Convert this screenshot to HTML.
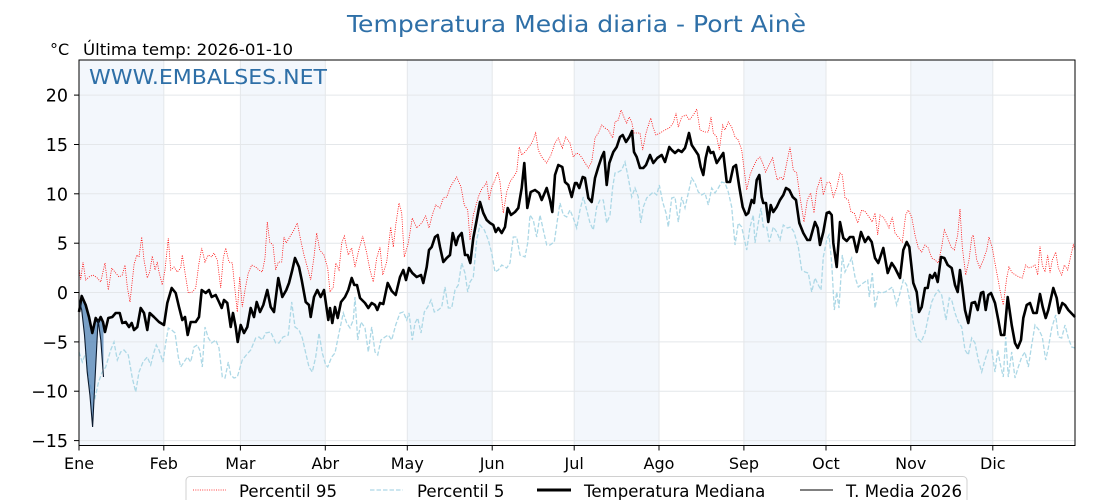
<!DOCTYPE html>
<html><head><meta charset="utf-8"><style>
html,body{margin:0;padding:0;background:#fff;}
svg{display:block;font-family:"DejaVu Sans","Liberation Sans",sans-serif;}
</style></head><body>
<svg width="1120" height="500" viewBox="0 0 1120 500" xmlns="http://www.w3.org/2000/svg">
<rect width="1120" height="500" fill="#fff"/>
<!-- month bands -->
<g fill="#f3f7fc">
<rect x="79" y="60" width="84.8" height="385.5"/>
<rect x="240.4" y="60" width="84.9" height="385.5"/>
<rect x="407.3" y="60" width="84.9" height="385.5"/>
<rect x="574.2" y="60" width="84.8" height="385.5"/>
<rect x="743.9" y="60" width="82.1" height="385.5"/>
<rect x="910.8" y="60" width="82" height="385.5"/>
</g>
<!-- grid -->
<g stroke="#e4e7ea" stroke-width="1">
<line x1="79" x2="1075" y1="95.1" y2="95.1"/>
<line x1="79" x2="1075" y1="144.5" y2="144.5"/>
<line x1="79" x2="1075" y1="193.8" y2="193.8"/>
<line x1="79" x2="1075" y1="243.2" y2="243.2"/>
<line x1="79" x2="1075" y1="292.5" y2="292.5"/>
<line x1="79" x2="1075" y1="341.9" y2="341.9"/>
<line x1="79" x2="1075" y1="391.2" y2="391.2"/>
<line x1="79" x2="1075" y1="440.6" y2="440.6"/>
<line y1="60" y2="445.5" x1="163.8" x2="163.8"/>
<line y1="60" y2="445.5" x1="240.4" x2="240.4"/>
<line y1="60" y2="445.5" x1="325.3" x2="325.3"/>
<line y1="60" y2="445.5" x1="407.3" x2="407.3"/>
<line y1="60" y2="445.5" x1="492.2" x2="492.2"/>
<line y1="60" y2="445.5" x1="574.2" x2="574.2"/>
<line y1="60" y2="445.5" x1="659" x2="659"/>
<line y1="60" y2="445.5" x1="743.9" x2="743.9"/>
<line y1="60" y2="445.5" x1="826" x2="826"/>
<line y1="60" y2="445.5" x1="910.8" x2="910.8"/>
<line y1="60" y2="445.5" x1="992.8" x2="992.8"/>
</g>
<!-- P95 -->
<polyline fill="none" stroke="#ff0000" stroke-width="0.8" stroke-dasharray="1,1.3" points="79,268 80.7,280 83,262 85.7,280 89,277 93,275 97.3,278 100.7,282 105,263 108.3,290 111.7,268 115.7,273 119,277 122.3,275 125,265 127.3,287 130,302 134,265 136.7,255 139,257 141.7,237 144,260 147.3,278 149.7,272 152.3,256 155,270 157.3,262 159,272 162.3,285 165,270 168.3,238 170.7,270 174,267 177.3,272 180.7,268 182.3,255 185.7,277 188.3,293 192.3,292 195.7,288 199,263 201.7,248 205,262 208.3,255 211.7,257 214,253 217.3,260 220.7,288 223.3,258 225.7,248 229,262 232.3,263 235,290 237.3,312 239.7,277 242.3,307 245,290 248.3,273 251.7,265 255.7,267 259,270 262.3,272 265,258 267.3,222 269.7,242 273,245 275.7,270 278.3,262 281.7,262 284,237 286.3,243 289.7,237 294,230 297.3,223 300.7,240 304,255 307.3,267 310.7,280 314,257 316.7,233 319.7,250 324,255 327.7,268 330,292 333.3,287 335.7,263 339,270 341.7,243 344.3,236 348.3,255 351.7,248 355,267 358.3,252 362.7,236 366.7,253 370,270 373.3,282 376.7,258 380,247 382.7,275 386.7,262 390.7,227 393.3,247 395.7,225 399,203 401.7,213 404.3,257 408.3,243 412.3,218 416.7,228 421.7,223 425.7,216 429,228 432.3,215 435.7,205 440,208 443.3,198 446.7,197 450,188 453.3,182 456.7,177 461,187 464.3,205 467.7,210 470,240 473.3,215 478.3,197 481.7,189 485,185 486.7,182 489,200 491.7,187 495,180 497.7,172 500,182 503.3,213 506.7,192 510,182 513.3,177 516.7,172 519.3,147 521.7,155 525,152 529,147 532.3,142 535.7,133 538.3,150 541.7,157 546.7,163 551,155 555,143 558.3,138 562.3,148 565.7,137 570,143 573.3,157 576.7,153 580,155 583.3,160 588.3,168 591.7,162 595,138 598.3,133 601.7,125 605,128 608.3,130 612.7,138 615,122 618.3,120 621,110 624.3,118 626.7,123 629.3,117 631.7,122 634,133 636.7,133 640,133 642.7,150 646,133 650.7,118 653.3,128 656,135 660,133 665,130 669.3,128 673.3,123 676,113 678.3,127 681.7,117 686,115 689.3,120 693.3,115 696.7,109 700,130 705,132 708.3,132 711,117 713.3,133 716.7,137 719.3,150 722.7,125 725,130 728.3,122 731.7,127 735,137 738.3,140 741.7,150 746.7,190 750,175 753.3,167 756.7,160 760,157 762.7,163 765.7,172 769,165 772.7,158 775,170 777.3,180 780.7,177 783.3,180 786.7,163 790,147 793.3,170 796.7,173 800,197 804,222 807.3,200 810.7,193 814,213 816.7,190 818.3,185 821,177 823.3,195 826.7,183 830,182 833.3,197 836.7,188 840,173 842.3,175 845,198 848.3,200 851,212 854.3,213 857.7,223 861.7,210 865.7,212 869,217 872.3,222 875,213 877.7,235 880,215 883.3,217 886.7,223 889,228 892.3,217 895,233 898.3,237 902.3,242 905.7,215 908.3,210 911.7,217 915,235 918.3,248 921.7,252 925,245 928.3,248 931.7,258 935,260 938.3,263 941.7,247 944.3,230 947.7,238 951,247 954.3,250 957.7,235 960,209 962.3,247 965.7,275 969,260 971.7,238 973.3,235 976.7,260 980,268 983.3,260 986.7,250 989,237 992.3,248 995.7,267 1000,290 1003.3,305 1006.7,278 1009,267 1012.3,273 1015.7,275 1019,277 1022.3,278 1025.7,265 1028.3,268 1031.7,267 1035,265 1037.7,275 1040,246 1042.3,265 1045,272 1047.7,255 1050,273 1052.3,260 1055.7,252 1058.3,268 1061.7,275 1064.3,265 1067.7,270 1071,255 1073.3,245 1075,250"/>
<!-- P5 -->
<polyline fill="none" stroke="#add8e6" stroke-width="1.3" stroke-dasharray="4.5,2" points="79,352 82.3,362 85.7,353 89,380 92.3,393 95,398 98.3,383 101.7,373 105.7,367 110.7,350 114,342 117.3,360 120.7,352 124,350 128.3,355 132.3,378 135.7,392 139,372 143,362 147.3,357 150.7,365 154,352 156.3,345 159,350 163,362 165.7,343 168.3,328 171.7,330 175,333 178.3,357 180.7,367 184,362 187.3,357 190.7,362 194,347 197.3,345 199.7,350 202.3,367 205,327 208.3,338 211.7,343 215.7,340 219,348 222.3,377 225,378 228.3,362 230.7,375 234,378 237.3,377 242.3,360 246.3,355 250.7,350 255.7,338 259,337 262.3,340 265.7,333 270.7,332 275.7,343 279,343 283,337 288.3,335 291.7,302 295,327 299,330 302.3,338 305.7,353 309,367 312.3,372 315.7,357 319,333 322.3,353 325.7,365 327.7,367 331.7,357 335,353 339,333 343.3,313 346.7,323 350,328 353.3,320 355,297 357.7,340 361,322 365,328 368.3,352 371.7,327 375,352 377.7,355 381,340 385,337 388.3,335 391.7,340 395.7,325 400,313 403.3,312 406.7,320 409,313 412.3,340 415,323 417.7,318 421,333 424.3,312 427.7,307 431,300 434.3,312 438.3,310 441.7,307 445,287 448.3,308 451.7,308 455,290 458.3,285 461.7,263 465,273 467.7,292 470,282 473.3,277 476.7,240 480,225 484.3,230 488.3,240 491.7,253 495,272 498.3,270 501.7,265 506.7,268 510,263 513.3,237 516.7,237 520,255 525,257 527.7,243 530,215 533.3,220 536.7,237 540,215 543.3,230 546.7,245 550,245 554.3,242 557.7,218 560,203 563.3,215 566.7,217 570,210 573.3,218 576.7,228 580,210 583.3,197 586.7,210 590,223 593.3,230 596.7,207 600,200 603.3,200 606.7,223 610,215 612.7,187 615,173 618.3,172 621.7,170 625,162 628.3,178 631.7,197 635,188 638.3,197 640.7,223 643.3,207 646.7,198 650,195 653.3,192 656.7,195 659.3,185 662.7,202 666,213 668.3,227 671.7,198 675,197 678.3,222 681.7,197 685,208 688.3,193 691.7,178 695,183 698.3,192 701.7,195 705,193 708.3,205 711.7,188 715,193 718.3,188 721.7,182 725,183 728.3,192 731.7,207 735,245 738.3,223 741.7,227 746.7,250 750,227 753.3,215 755,243 758.3,223 761,208 763.3,227 766.7,227 769.3,242 773.3,227 776.7,232 780,240 783.3,225 787.3,228 790.7,227 794,232 798.3,247 801.7,270 805,272 808.3,273 811.7,292 815,278 818.3,285 821,290 823.3,257 826.7,240 829,235 831.7,263 834.3,310 836.7,292 839,308 842.3,255 845,272 848.3,265 851.7,258 855,277 858.3,287 863.3,283 867.7,280 869.3,297 872.3,273 875,308 878.3,292 881.7,293 885,292 888.3,290 892.3,287 896.7,305 900,293 903.3,280 906.7,285 910,302 913.3,323 916.7,338 921,342 925,333 928.3,317 931.7,302 935,295 938.3,290 941.7,295 946,320 949.3,298 951.7,300 955,313 958.3,322 961.7,327 965,350 968.3,355 971.7,338 975,343 978.3,360 981.7,372 985,360 988.3,350 991.7,350 995,372 997.7,350 1000,363 1003.3,377 1005.7,337 1008.3,377 1011.7,352 1015,378 1018.3,367 1021.7,357 1025,352 1028.3,367 1031.7,345 1035,325 1039,330 1042.3,337 1045.7,360 1048.3,348 1051.7,328 1055.7,315 1058.3,337 1061.7,338 1065,325 1068.3,338 1071.7,347 1075,348"/>
<!-- 2026 fill -->
<polygon fill="#4f82b4" fill-opacity="0.75" points="79,312 81.7,296 85.7,305 89,317 92.3,333 95.7,318 98.3,322 100.7,317 103.5,322 103.5,377 100.8,340 98.1,320 95.4,372 92.6,427 89.9,395 87.2,372 84.5,335 81.7,310 79,300"/>
<!-- median -->
<polyline fill="none" stroke="#000" stroke-width="2.6" stroke-linejoin="round" points="79,312 81.7,296 85.7,305 89,317 92.3,333 95.7,318 98.3,322 100.7,317 103,322 105,332 108.3,318 112.3,317 115.7,313 119.7,313 122.3,323 125.7,322 129,327 131.7,323 134,330 137.3,327 140.7,308 144,313 147.3,330 149.7,313 154,317 159,322 164,325 167.3,303 171.7,288 175.7,293 179,307 182.3,320 185,317 187.7,335 190.7,322 195.7,322 199,317 201.7,290 205.7,293 209,290 211.7,297 215.7,295 219,302 221.7,308 224,300 227.3,303 230.7,327 233,313 235.7,327 237.7,342 240.7,325 244,333 247.3,327 250.7,308 254,317 256.7,302 260,312 263.3,305 267.3,290 270.7,307 274,312 278.3,278 282.3,297 286.3,290 289,283 292.3,270 295,258 299,267 301.7,280 305.7,302 309,305 310.7,317 314,297 317.3,290 320.7,297 324,290 328.3,320 330,308 332.3,323 335,307 337.7,318 341,302 345,297 348.3,290 351.7,278 354.3,285 357,285 360,298 365,303 368.3,308 371.7,303 375,305 377.3,310 380,303 383.3,304 387.7,283 391.7,291 395.7,295 400,277 403.3,270 406,280 409,268 412.3,273 416.7,277 421,275 423.3,283 426.7,267 429,250 431.7,247 435,237 437.7,235 440,247 443.3,262 446.7,258 450,255 452.7,233 456,245 458.3,237 461.7,233 465,255 467.7,255 470.3,263 473.3,238 476.7,220 480,202 483.3,213 486.7,220 490,223 493.3,225 495.7,232 498.3,228 501.7,233 505,227 507.7,208 511,215 515,212 518.3,208 521.7,188 524.3,163 527.3,208 530.7,192 535,190 539,193 541.7,200 546.7,188 550,200 552.3,212 555,175 558.3,165 562.3,167 565,182 568.3,185 571.7,197 575,183 576.7,183 579.3,188 582.7,177 585,178 588.3,198 591.7,202 595,178 598.3,167 601.7,157 604,152 606.7,185 609.3,163 613.3,152 616.7,147 620,137 622.7,135 626,142 629.3,137 632,131 634,152 636.7,157 640,168 643.3,168 646,165 650,155 653.3,163 657.3,158 661.7,155 665,162 669.3,147 671.7,150 675,153 678.3,150 681.7,152 685,148 686.7,142 689,133 691.7,145 695,150 698.3,155 700.7,167 703.3,175 705.7,158 708.3,147 710.7,153 713.3,152 716.7,163 720,158 723.3,153 726.7,182 730,182 733.3,167 736,165 739.3,187 742.7,207 746,215 748.3,213 751.7,200 754,203 756.7,180 759.3,175 761.7,197 763.3,203 766,203 768.3,222 770.7,205 773.3,212 776.7,207 780,200 783.3,195 786,188 789.3,190 792.7,197 796,200 799.3,223 803.3,233 807.3,240 810,240 815,222 817.7,228 820,245 823.3,232 826.7,213 829.3,212 831.7,215 833.3,243 836.7,267 840,222 843.3,238 846.7,241 850,237 853.3,237 856.7,252 861,232 865,242 868.3,237 871.7,242 875,258 878.3,263 883.3,248 887.7,273 891.7,263 895,268 900,278 903.3,250 906.7,242 909.3,247 913.3,283 916.7,292 919,312 921.7,307 925,288 927.7,288 930,275 932.3,278 935,273 937.7,282 941,257 944.3,258 947.7,265 951.7,268 955,285 957.7,292 960,270 962.3,287 965,310 968.3,323 971.7,303 975,302 977.7,310 981,293 983.3,292 985.7,310 988.3,295 991,293 995,303 998.3,320 1001,335 1004.3,335 1007.7,297 1011.7,325 1015,343 1017.7,348 1021,340 1023.3,318 1026.7,305 1030,303 1033.3,313 1036.7,313 1040,294 1042.7,307 1045.7,318 1048.3,310 1053.3,288 1056.7,298 1059,313 1062.3,303 1065,305 1068.3,310 1075,317"/>
<!-- 2026 line -->
<polyline fill="none" stroke="#0b1a2e" stroke-width="1.1" points="79,300 81.7,310 84.5,335 87.2,372 89.9,395 92.6,427 95.4,372 98.1,320 100.8,340 103.5,377"/>
<!-- frame -->
<rect x="79" y="60" width="996" height="385.5" fill="none" stroke="#000" stroke-width="1"/>
<!-- ticks -->
<g stroke="#000" stroke-width="1">
<line x1="74" x2="79" y1="95.1" y2="95.1"/>
<line x1="74" x2="79" y1="144.5" y2="144.5"/>
<line x1="74" x2="79" y1="193.8" y2="193.8"/>
<line x1="74" x2="79" y1="243.2" y2="243.2"/>
<line x1="74" x2="79" y1="292.5" y2="292.5"/>
<line x1="74" x2="79" y1="341.9" y2="341.9"/>
<line x1="74" x2="79" y1="391.2" y2="391.2"/>
<line x1="74" x2="79" y1="440.6" y2="440.6"/>
<line y1="445.5" y2="450.5" x1="79" x2="79"/>
<line y1="445.5" y2="450.5" x1="163.8" x2="163.8"/>
<line y1="445.5" y2="450.5" x1="240.4" x2="240.4"/>
<line y1="445.5" y2="450.5" x1="325.3" x2="325.3"/>
<line y1="445.5" y2="450.5" x1="407.3" x2="407.3"/>
<line y1="445.5" y2="450.5" x1="492.2" x2="492.2"/>
<line y1="445.5" y2="450.5" x1="574.2" x2="574.2"/>
<line y1="445.5" y2="450.5" x1="659" x2="659"/>
<line y1="445.5" y2="450.5" x1="743.9" x2="743.9"/>
<line y1="445.5" y2="450.5" x1="826" x2="826"/>
<line y1="445.5" y2="450.5" x1="910.8" x2="910.8"/>
<line y1="445.5" y2="450.5" x1="992.8" x2="992.8"/>
</g>
<g font-size="17.5" fill="#000" text-anchor="end">
<text x="68" y="101.5">20</text>
<text x="68" y="151">15</text>
<text x="68" y="200.3">10</text>
<text x="68" y="249.6">5</text>
<text x="68" y="299">0</text>
<text x="68" y="348.3">−5</text>
<text x="68" y="397.6">−10</text>
<text x="68" y="447">−15</text>
</g>
<g font-size="16" fill="#000" text-anchor="middle">
<text x="79" y="469">Ene</text>
<text x="163.8" y="469">Feb</text>
<text x="240.4" y="469">Mar</text>
<text x="325.3" y="469">Abr</text>
<text x="407.3" y="469">May</text>
<text x="492.2" y="469">Jun</text>
<text x="574.2" y="469">Jul</text>
<text x="659" y="469">Ago</text>
<text x="743.9" y="469">Sep</text>
<text x="826" y="469">Oct</text>
<text x="910.8" y="469">Nov</text>
<text x="992.8" y="469">Dic</text>
</g>
<text x="347" y="32" font-size="23" fill="#2e6fa7" textLength="459" lengthAdjust="spacingAndGlyphs">Temperatura Media diaria - Port Ainè</text>
<text x="50" y="55" font-size="16" fill="#000">°C</text>
<text x="83" y="55" font-size="16" fill="#000" textLength="210" lengthAdjust="spacingAndGlyphs">Última temp: 2026-01-10</text>
<text x="89" y="84" font-size="20" fill="#2e6fa7" textLength="238" lengthAdjust="spacingAndGlyphs">WWW.EMBALSES.NET</text>
<!-- legend -->
<rect x="186" y="476.5" width="781" height="40" rx="4" fill="#fff" fill-opacity="0.85" stroke="#d0d0d0" stroke-width="1"/>
<line x1="193" x2="226" y1="490" y2="490" stroke="#ff0000" stroke-width="0.8" stroke-dasharray="1,1.3"/>
<line x1="370" x2="403" y1="490" y2="490" stroke="#add8e6" stroke-width="1.3" stroke-dasharray="4.5,2"/>
<line x1="537" x2="571" y1="490" y2="490" stroke="#000" stroke-width="3"/>
<line x1="800" x2="833" y1="490" y2="490" stroke="#000" stroke-width="1"/>
<g font-size="16.6" fill="#000">
<text x="239" y="497">Percentil 95</text>
<text x="417" y="497">Percentil 5</text>
<text x="584" y="497">Temperatura Mediana</text>
<text x="846" y="497">T. Media 2026</text>
</g>
</svg>
</body></html>
